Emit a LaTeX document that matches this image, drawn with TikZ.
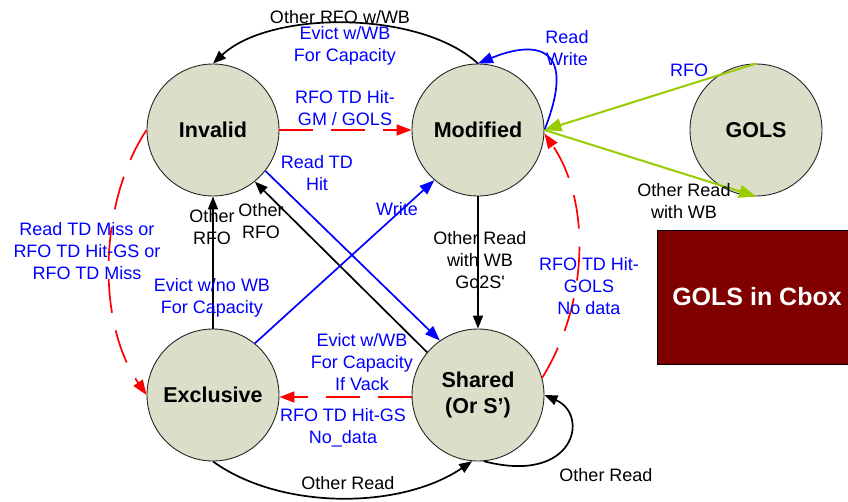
\documentclass[tikz,border=0pt]{standalone}
\usepackage{fontspec}
\setmainfont{Liberation Sans}
\usetikzlibrary{arrows.meta}
\definecolor{statefill}{RGB}{220,222,202}
\definecolor{cboxred}{RGB}{128,0,0}
\definecolor{limegreen}{RGB}{153,204,0}
\definecolor{lblblue}{RGB}{0,0,255}
\definecolor{arcred}{RGB}{255,0,0}

\begin{document}
\begin{tikzpicture}[x=1pt,y=-1pt,
  state/.style={circle,draw=black!85,line width=0.9pt,fill=statefill,
    minimum size=132pt,inner sep=0pt,align=center,
    font=\fontsize{21.5}{26}\selectfont\bfseries},
  lbl/.style={align=center,inner sep=0pt,font=\fontsize{18}{22}\selectfont},
  bluelbl/.style={lbl,text=lblblue},
  blackedge/.style={draw=black,line width=1.7pt,-{Triangle[length=13pt,width=10pt]}},
  blueedge/.style={draw=lblblue,line width=1.7pt,-{Triangle[length=15pt,width=11pt]}},
  rededge/.style={draw=arcred,line width=1.7pt,dash pattern=on 34pt off 18pt,
    -{Triangle[length=15pt,width=11pt]}},
  greenedge/.style={draw=limegreen,line width=2pt,-{Triangle[length=17pt,width=13pt]}}
]
\useasboundingbox (0,0) rectangle (848,501);

% states
\node[state] (inv)  at (213,130) {Invalid};
\node[state] (mod)  at (478,130) {Modified};
\node[state] (gols) at (756,130) {GOLS};
\node[state] (exc)  at (213,395) {Exclusive};
\node[state] (shr)  at (478,395) {Shared\\(Or S’)};

% Cbox marker
\node[draw=black,line width=0.8pt,fill=cboxred,anchor=north west,
      minimum width=198pt,minimum height=134pt,inner sep=0pt] (cbox) at (657,230) {};
\node[text=white,inner sep=0pt,font=\fontsize{25}{28}\selectfont\bfseries]
      (cboxtxt) at (757,297) {GOLS in Cbox};

% transitions
\draw[blackedge] (mod.north) .. controls (420,10) and (270,10) .. (inv.north);
\draw[blueedge] (mod.east) .. controls (580,40) and (530,42) .. (mod.north);
\draw[rededge] (inv.east) -- (mod.west);
\draw[blueedge] (inv.-38) -- (shr.125);
\draw[blackedge] (shr.140) -- (inv.-51);
\draw[blackedge] (exc.north) -- (inv.south);
\draw[blueedge] (exc.51) -- (mod.-131);
\draw[blackedge] (mod.south) -- (shr.north);
\draw[rededge] (inv.west) .. controls (100,200) and (95,320) .. (exc.west);
\draw[rededge] (shr.15) .. controls (590,300) and (590,200) .. (mod.-3);
\draw[rededge] (shr.west |- 0,397) coordinate (sw) -- (exc.east |- sw);
\draw[blackedge] (exc.south) .. controls (280,510) and (400,510) .. (shr.-95);
\draw[blackedge] (shr.-85) .. controls (575,485) and (590,415) .. (shr.0);
\draw[greenedge] (gols.north) -- (mod.east);
\draw[greenedge] (mod.east) -- (gols.south);

% labels
\node[lbl]      (l1)  at (340,17)    {Other RFO w/WB};
\node[bluelbl]  (l2)  at (345,46)    {Evict w/WB\\For Capacity};
\node[bluelbl]  (l3)  at (345,108.5) {RFO TD Hit-\\GM / GOLS};
\node[bluelbl]  (l4)  at (567,48)    {Read\\Write};
\node[bluelbl]  (l5)  at (689,70)    {RFO};
\node[lbl]      (l6)  at (684,201.5) {Other Read\\with WB};
\node[bluelbl]  (l7)  at (317,173.5) {Read TD\\Hit};
\node[lbl]      (l8)  at (261,221)   {Other\\RFO};
\node[lbl]      (l9)  at (212,227.5) {Other\\RFO};
\node[bluelbl]  (l10) at (397,209)   {Write};
\node[lbl]      (l11) at (480,260)   {Other Read\\with WB\\Go2S\textquotesingle};
\node[bluelbl]  (l12) at (87,251.5)  {Read TD Miss or\\RFO TD Hit-GS or\\RFO TD Miss};
\node[bluelbl]  (l13) at (212,298)   {Evict w/no WB\\For Capacity};
\node[bluelbl]  (l14) at (589,286.5) {RFO TD Hit-\\GOLS\\No data};
\node[bluelbl]  (l15) at (362,362.5) {Evict w/WB\\For Capacity\\If Vack};
\node[bluelbl]  (l16) at (343,428)   {RFO TD Hit-GS\\No\_data};
\node[lbl]      (l17) at (348,483)   {Other Read};
\node[lbl]      (l18) at (606,475)   {Other Read};
\end{tikzpicture}
\end{document}
